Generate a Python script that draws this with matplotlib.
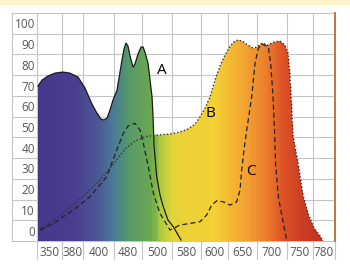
import numpy as np
import matplotlib
matplotlib.use('Agg')
import matplotlib.pyplot as plt
from matplotlib.colors import LinearSegmentedColormap
from matplotlib.patches import Polygon, Rectangle
from matplotlib.ticker import NullLocator

# axis labels
tick_nm = [350, 380, 400, 480, 500, 580, 600, 650, 700, 750, 780]
y_ticks = list(range(0, 101, 10))

# curve A (solid outline)
a_nm = [335.0, 340.2, 348.0, 357.2, 367.6, 376.7, 384.2, 389.6, 395.0, 398.8,
        406.8, 414.9, 423.1, 431.2, 439.3, 450.2, 458.3, 463.7, 469.2, 474.6,
        480.0, 481.4, 483.5, 484.8, 486.9, 489.0, 490.4, 491.7, 493.8, 495.2,
        496.6, 497.2, 497.6, 497.9, 499.8, 508.1, 517.1, 529.8, 544.2, 565.1]
a_val = [69.8, 72.6, 74.6, 76.0, 76.5, 76.0, 74.1, 68.8, 61.0, 56.7,
         53.8, 53.4, 54.3, 58.2, 63.0, 67.8, 76.5, 82.3, 87.6, 90.5,
         89.0, 84.2, 78.9, 80.4, 85.2, 88.6, 88.6, 86.1, 80.8, 72.6,
         64.4, 55.8, 48.5, 41.3, 26.0, 17.2, 11.5, 5.1, 1.9, -4.5]

# curve B (dotted)
b_nm = [337.6, 363.7, 385.8, 404.1, 444.7, 471.9, 484.8, 491.7, 498.6, 535.3,
        562.4, 581.1, 586.1, 589.6, 593.2, 596.8, 600.9, 609.8, 618.8, 627.7,
        636.6, 642.0, 649.1, 659.3, 667.8, 674.6, 683.1, 693.2, 703.6, 714.3,
        723.2, 728.6, 732.1, 735.7, 737.5, 742.9, 748.2, 753.8, 760.0, 767.5,
        775.0, 778.8]
b_val = [0.8, 7.0, 15.2, 24.4, 33.1, 39.4, 43.2, 45.2, 46.1, 46.6,
         47.6, 49.0, 51.4, 54.8, 59.1, 64.4, 72.6, 79.4, 84.7, 89.0,
         91.5, 91.9, 91.5, 89.5, 88.1, 88.6, 90.5, 89.5, 91.0, 91.5,
         89.5, 85.7, 76.0, 56.7, 46.1, 37.9, 30.2, 17.2, 8.5, 1.3,
         -2.6, -5.0]

# curve C (dashed)
c_nm = [337.6, 355.0, 380.6, 393.5, 422.2, 449.4, 467.3, 480.0, 484.8, 488.3,
        490.6, 494.0, 497.5, 508.1, 535.3, 562.4, 582.5, 589.6, 594.4, 598.0,
        603.9, 615.7, 627.7, 639.6, 645.5, 648.6, 652.5, 657.1, 661.5, 665.6,
        671.2, 676.8, 682.6, 687.0, 693.8, 697.8, 701.8, 704.5, 706.3, 711.3,
        720.2, 726.3]
c_val = [0.3, 3.5, 9.9, 16.4, 26.0, 38.9, 46.9, 50.5, 51.8, 48.5,
         42.1, 30.8, 18.0, 8.3, 0.3, 2.7, 3.5, 4.3, 7.5, 12.3,
         14.4, 13.9, 12.3, 13.9, 19.6, 29.2, 38.9, 48.5, 56.7, 64.6,
         80.7, 87.9, 90.0, 89.5, 88.7, 80.7, 64.6, 48.5, 32.5, 16.4,
         3.5, -4.5]

# spectrum colours painted under the curves
stops_nm = [335, 380, 398, 440, 475, 495, 505, 540, 600, 650, 690, 720, 760, 795]
stops_col = ['#45378a', '#4a3c8e', '#4b5896', '#4b7a96', '#509470', '#6aa850',
             '#a8c840', '#e2d43a', '#f3d034', '#f2a832', '#ec7e2c', '#dd5226',
             '#c83a22', '#c23222']

# column edges of the table (figure pixels)
col_edges = np.array([37, 62, 83, 114, 142, 172, 201, 228, 257, 287, 313, 335], float)
col_mid = (col_edges[:-1] + col_edges[1:]) / 2


def piecewise(x, xp, fp):
    x = np.asarray(x, dtype=float)
    xp = np.asarray(xp, dtype=float)
    fp = np.asarray(fp, dtype=float)
    y = np.interp(x, xp, fp)
    s0 = (fp[1] - fp[0]) / (xp[1] - xp[0])
    s1 = (fp[-1] - fp[-2]) / (xp[-1] - xp[-2])
    y = np.where(x < xp[0], fp[0] + (x - xp[0]) * s0, y)
    y = np.where(x > xp[-1], fp[-1] + (x - xp[-1]) * s1, y)
    return y


def forward(x):
    return piecewise(x, tick_nm, col_mid)


def inverse(p):
    return piecewise(p, col_mid, tick_nm)


font = 'Open Sans'
fig = plt.figure(figsize=(3.5, 2.65), dpi=100)
fig.add_artist(Rectangle((0, 1 - 4 / 265), 1, 4 / 265, transform=fig.transFigure,
                         color='#fbf5c8', zorder=0))
ax = fig.add_axes([37 / 350, 1 - 241 / 265, (335 - 37) / 350, (241 - 13) / 265])
ax.set_xscale('function', functions=(forward, inverse))
x_lo, x_hi = inverse([37, 335])

# table grid
grid_c = '#c4c4c4'
for v in np.arange(-5, 106, 10):
    ax.plot([-0.084, 1], [v, v], transform=ax.get_yaxis_transform(), color=grid_c,
            lw=0.8, clip_on=False, zorder=0.5)
for e in inverse(col_edges):
    ax.plot([e, e], [-0.08, 1], transform=ax.get_xaxis_transform(), color=grid_c,
            lw=0.8, clip_on=False, zorder=0.5)
ax.plot([-0.084, -0.084], [0, 1], transform=ax.transAxes, color=grid_c, lw=0.8,
        clip_on=False, zorder=0.5)

# rainbow fill under the envelope of the three curves
grid = np.linspace(x_lo, x_hi, 1500)
top = np.maximum.reduce([np.interp(grid, a_nm, a_val, left=-5, right=-5),
                         np.interp(grid, b_nm, b_val, left=-5, right=-5),
                         np.interp(grid, c_nm, c_val, left=-5, right=-5)])
verts = [(grid[0], -5)] + list(zip(grid, top)) + [(grid[-1], -5)]
poly = Polygon(verts, closed=True, transform=ax.transData)

cmap = LinearSegmentedColormap.from_list(
    'spec', list(zip((np.array(stops_nm) - 335) / 460, stops_col)))
xe = np.linspace(x_lo, x_hi, 400)
mid = (xe[:-1] + xe[1:]) / 2
mesh = ax.pcolormesh(xe, [-5, 105], mid[None, :], cmap=cmap, vmin=335, vmax=795,
                     shading='flat', antialiased=False, linewidth=0, zorder=1)
mesh.set_clip_path(poly)

# curves
ax.plot(a_nm, a_val, color='#1a1a1a', lw=0.9, zorder=3)
ax.plot(b_nm, b_val, color='#333333', lw=1.0, ls=(0, (1, 1.5)), zorder=3)
ax.plot(c_nm, c_val, color='#222222', lw=0.9, ls=(0, (4, 2.5)), zorder=3)

ax.text(513.6, 77.5, 'A', fontsize=11, ha='center', va='center', family=font, zorder=4)
ax.text(596.8, 56.7, 'B', fontsize=11, ha='center', va='center', family=font, zorder=4)
ax.text(664.4, 28.3, 'C', fontsize=11, ha='center', va='center', family=font, zorder=4)

ax.set_xlim(x_lo, x_hi)
ax.set_ylim(-5, 105)
ax.set_xticks(tick_nm)
ax.set_xticklabels([str(t) for t in tick_nm], family=font)
ax.xaxis.set_minor_locator(NullLocator())
ax.set_yticks(y_ticks)
ax.set_yticklabels([str(t) for t in y_ticks], family=font)
ax.tick_params(axis='x', length=0, labelsize=8.5, labelcolor='#555555', pad=3.5)
ax.tick_params(axis='y', length=0, labelsize=8.5, labelcolor='#555555', pad=1.5)
for s in ['left', 'top', 'bottom']:
    ax.spines[s].set_visible(False)
ax.spines['right'].set_color('#b5703c')
ax.spines['right'].set_linewidth(1.3)

fig.savefig('out.png', dpi=100)
